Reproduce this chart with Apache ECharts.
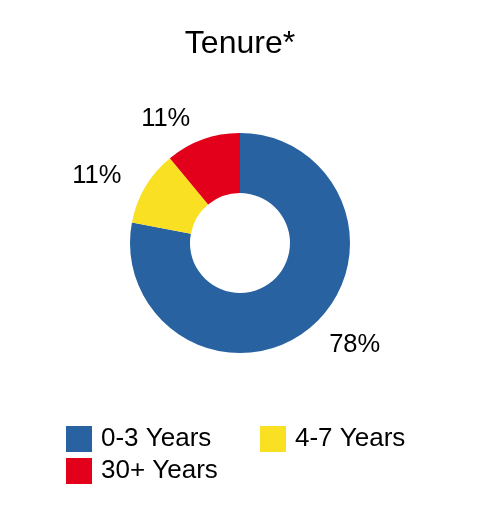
<!DOCTYPE html>
<html><head><meta charset="utf-8">
<script src="https://cdn.jsdelivr.net/npm/echarts@6/dist/echarts.min.js"></script>
<style>html,body{margin:0;padding:0;background:#fff}#c{width:480px;height:528px}</style>
</head><body><div id="c"></div>
<script>
const categories = ['0-3 Years', '4-7 Years', '30+ Years'];
const values = [78, 11, 11];
const labels = ['78%', '11%', '11%'];
const colors = ['#2962a1', '#f9e023', '#e2001a'];
const font = 'Liberation Sans, Arial, sans-serif';
const chart = echarts.init(document.getElementById('c'));
chart.setOption({
  animation: false,
  title: {text: 'Tenure*', left: 'center', top: 23, textStyle: {fontFamily: font, fontSize: 32, fontWeight: 'normal', color: '#000'}},
  legend: [
    {orient: 'vertical', left: 61, top: 421, itemWidth: 26, itemHeight: 26, itemGap: 6, icon: 'rect',
     data: [categories[0], categories[2]],
     textStyle: {fontFamily: font, fontSize: 26, color: '#000', padding: [0,0,0,4]}},
    {orient: 'vertical', left: 255, top: 421, itemWidth: 26, itemHeight: 26, itemGap: 6, icon: 'rect',
     data: [categories[1]],
     textStyle: {fontFamily: font, fontSize: 26, color: '#000', padding: [0,0,0,4]}}
  ],
  series: [{
    type: 'pie', center: [240, 243], radius: [50, 110], startAngle: 90, clockwise: true,
    avoidLabelOverlap: false,
    color: colors,
    label: {show: true, position: 'outside', fontFamily: font, fontSize: 25.5, color: '#000',
            formatter: p => labels[p.dataIndex]},
    labelLine: {show: false, length: 22, length2: 0},
    emphasis: {disabled: true},
    data: categories.map((c, i) => ({name: c, value: values[i]}))
  }]
});
</script></body></html>
